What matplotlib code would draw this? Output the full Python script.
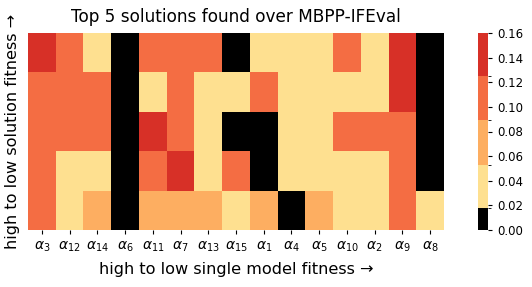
import matplotlib
matplotlib.use("Agg")
import matplotlib.pyplot as plt
import numpy as np
from matplotlib.colors import ListedColormap, BoundaryNorm

columns = [r"$\alpha_{3}$", r"$\alpha_{12}$", r"$\alpha_{14}$", r"$\alpha_{6}$", r"$\alpha_{11}$",
           r"$\alpha_{7}$", r"$\alpha_{13}$", r"$\alpha_{15}$", r"$\alpha_{1}$", r"$\alpha_{4}$",
           r"$\alpha_{5}$", r"$\alpha_{10}$", r"$\alpha_{2}$", r"$\alpha_{9}$", r"$\alpha_{8}$"]

row1 = [0.14, 0.105, 0.035, 0.01, 0.105, 0.105, 0.105, 0.01, 0.035, 0.035, 0.035, 0.105, 0.035, 0.14, 0.01]
row2 = [0.105, 0.105, 0.105, 0.01, 0.035, 0.105, 0.035, 0.035, 0.105, 0.035, 0.035, 0.035, 0.035, 0.14, 0.01]
row3 = [0.105, 0.105, 0.105, 0.01, 0.14, 0.105, 0.035, 0.01, 0.01, 0.035, 0.035, 0.105, 0.105, 0.105, 0.01]
row4 = [0.105, 0.035, 0.035, 0.01, 0.105, 0.14, 0.035, 0.105, 0.01, 0.035, 0.035, 0.035, 0.035, 0.105, 0.01]
row5 = [0.105, 0.035, 0.07, 0.01, 0.07, 0.07, 0.07, 0.035, 0.07, 0.01, 0.07, 0.035, 0.035, 0.105, 0.035]

bounds = [0.0, 0.0175, 0.053, 0.089, 0.125, 0.16]
colors = ["#000000", "#fee090", "#fdae61", "#f46d43", "#d73027"]

data = np.array([row1, row2, row3, row4, row5])

cmap = ListedColormap(colors)
norm = BoundaryNorm(bounds, cmap.N)

fig = plt.figure(figsize=(5.32, 2.87), dpi=100)
ax = fig.add_axes([28/532, 1 - 230/287, (444-28)/532, (230-33)/287])
cax = fig.add_axes([478/532, 1 - 230/287, 10/532, (230-33)/287])

mesh = ax.pcolormesh(data, cmap=cmap, norm=norm)
ax.set_xlim(0, data.shape[1])
ax.set_ylim(data.shape[0], 0)
ax.set_xticks(np.arange(data.shape[1]) + 0.5)
ax.set_xticklabels(columns, fontsize=10)
ax.set_yticks([])
for s in ax.spines.values():
    s.set_visible(False)
ax.tick_params(axis="x", length=3, pad=4)
ax.set_xlabel("high to low single model fitness →", fontsize=11.6, labelpad=6)
ax.set_ylabel("high to low solution fitness →", fontsize=11.6, labelpad=6)
ax.set_title("Top 5 solutions found over MBPP-IFEval", fontsize=12.2, pad=8)

cb = fig.colorbar(mesh, cax=cax, spacing="proportional",
                  ticks=[0, 0.02, 0.04, 0.06, 0.08, 0.10, 0.12, 0.14, 0.16])
cb.ax.set_yticklabels(["0.00", "0.02", "0.04", "0.06", "0.08", "0.10", "0.12", "0.14", "0.16"])
cb.ax.tick_params(labelsize=8.5, length=3)
cb.outline.set_visible(False)

fig.savefig("out.png", dpi=100)
